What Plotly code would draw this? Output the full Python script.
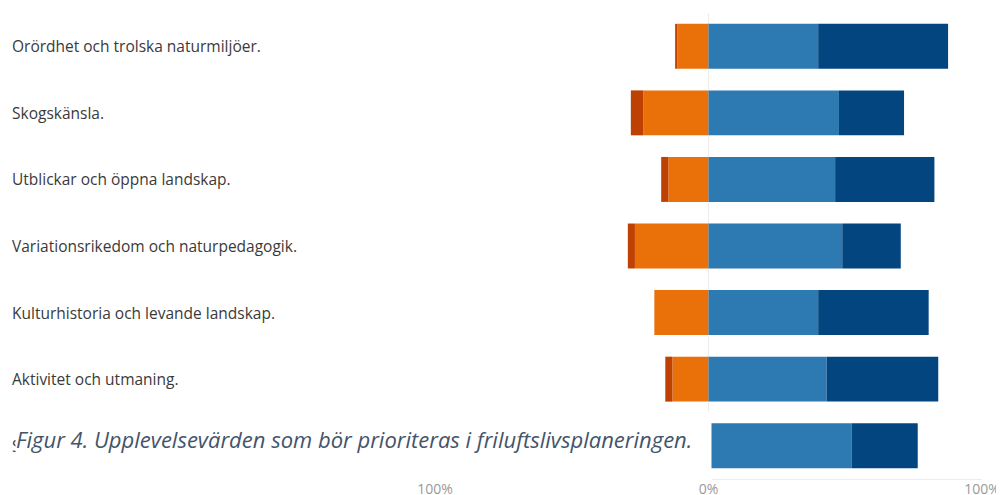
import plotly.graph_objects as go

categories = [
    "Orördhet och trolska naturmiljöer.",
    "Skogskänsla.",
    "Utblickar och öppna landskap.",
    "Variationsrikedom och naturpedagogik.",
    "Kulturhistoria och levande landskap.",
    "Aktivitet och utmaning.",
    "S",
]
# percentages (negative side: disagree shades, positive side: agree shades)
strongly_negative = [0.8, 4.6, 2.6, 2.6, 0.0, 2.6, None]
negative = [11.4, 23.8, 14.7, 26.9, 19.8, 13.2, None]
positive = [40.1, 47.7, 46.3, 48.9, 40.1, 43.2, 52.4]
strongly_positive = [47.5, 23.8, 36.3, 21.4, 40.4, 40.8, 24.1]

tick_vals = [-100, 0, 100]
tick_text = ["100%", "0%", "100%"]
caption = "Figur 4. Upplevelsevärden som bör prioriteras i friluftslivsplaneringen."

c_dark_red = "#BE4103"
c_orange = "#EA710A"
c_blue = "#2D79B1"
c_dark_blue = "#03467F"


def neg(vals):
    return [None if v is None else -v for v in vals]


fig = go.Figure()
fig.add_trace(go.Bar(y=categories, x=neg(negative), orientation="h",
                     marker=dict(color=c_orange, line=dict(width=0)), name="neg"))
fig.add_trace(go.Bar(y=categories, x=neg(strongly_negative), orientation="h",
                     marker=dict(color=c_dark_red, line=dict(width=0)), name="sneg"))
fig.add_trace(go.Bar(y=categories, x=positive, orientation="h",
                     marker=dict(color=c_blue, line=dict(width=0)), name="pos"))
fig.add_trace(go.Bar(y=categories, x=strongly_positive, orientation="h",
                     marker=dict(color=c_dark_blue, line=dict(width=0)), name="spos"))

W, H = 1004, 495
ml, mr, mt, mb = 427, 30, 4.5, 23.6
pw = W - ml - mr
ph = H - mt - mb


def px_x(p):
    return (p - ml) / pw


def px_y(p):
    return (H - mb - p) / ph


annotations = []
for c in categories:
    annotations.append(dict(
        x=px_x(2), xref="paper", y=c, yref="y", xanchor="left", yanchor="middle",
        text=c, showarrow=False, align="left",
        font=dict(family="Open Sans", size=15.5, color="#3a3a3a")))

# white caption box
annotations.append(dict(
    x=px_x(7), xref="paper", y=px_y(403), yref="paper", xanchor="left", yanchor="top",
    text=" ", showarrow=False, width=695, height=69, bgcolor="white", borderpad=0))
annotations.append(dict(
    x=px_x(6), xref="paper", y=px_y(431), yref="paper", xanchor="left", yanchor="middle",
    text="<i>" + caption + "</i>", showarrow=False, align="left",
    font=dict(family="Open Sans", size=22, color="#44546A")))

fig.update_layout(
    template="none",
    width=W, height=H,
    margin=dict(l=ml, r=mr, t=mt, b=mb, autoexpand=False),
    barmode="relative",
    bargap=0.325,
    showlegend=False,
    paper_bgcolor="white",
    plot_bgcolor="white",
    annotations=annotations,
    xaxis=dict(range=[-100, 100], tickvals=tick_vals, ticktext=tick_text,
               showgrid=True, gridcolor="#ececec", gridwidth=1, zeroline=False,
               showline=True, linecolor="#ececec", ticks="", automargin=False,
               ticklabelstandoff=-3,
               tickfont=dict(family="Open Sans", size=14, color="#9a9a9a"),
               fixedrange=True),
    yaxis=dict(categoryorder="array", categoryarray=categories, autorange="reversed",
               showticklabels=False, showgrid=False, zeroline=False, ticks="",
               automargin=False, fixedrange=True),
)

fig.write_html("out.html")
